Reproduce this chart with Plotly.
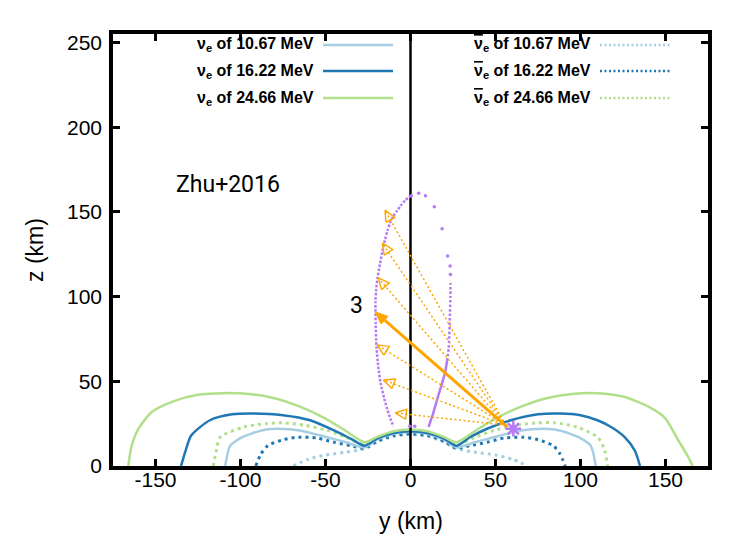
import numpy as np
import plotly.graph_objects as go

# ---------------- data (km) ----------------
# nu_e 10.67 MeV (solid light blue)
nue1_y = [-109, -106, -100, -94, -85, -78, -65, -49, -38, -27, -20, -10, 0, 10, 20, 27, 38, 49, 65, 78, 85, 94, 100, 106, 109]
nue1_z = [0, 12, 16.5, 19, 21.5, 22, 21, 17, 14, 11, 15.5, 19, 20, 19, 15.5, 11, 14, 17, 21, 22, 21.5, 19, 16.5, 12, 0]
# nu_e 16.22 MeV (solid dark blue)
nue2_y = [-135, -132, -129, -118, -105, -92, -75, -59, -45, -35, -27, -20, -10, 0, 10, 20, 27, 35, 45, 59, 75, 88, 100, 110, 118, 126, 132, 135]
nue2_z = [0, 10, 18, 27, 30.5, 31, 30, 27, 21, 16, 12, 16, 19.5, 20.5, 19.5, 16, 12, 17, 22, 27, 30.5, 31, 30, 27, 23, 17, 9, 0]
# nu_e 24.66 MeV (solid green)
nue3_y = [-166, -164, -160, -152, -140, -125, -110, -95, -80, -65, -50, -40, -27, -20, -10, 0, 10, 20, 27, 40, 50, 65, 80, 95, 110, 125, 140, 150, 157, 163, 166]
nue3_z = [0, 12, 22, 32, 38, 42, 43, 42.5, 40, 35, 28, 22, 14, 17, 20.5, 21.5, 20.5, 17, 14, 22, 28, 35, 40, 42.5, 43, 41, 35, 28, 16, 6, 0]
# anti nu_e 10.67 MeV (dotted light blue)
anu1_y = [-69, -60, -50, -39, -30, -25, -20, -10, 0, 10, 20, 25, 30, 39, 50, 60, 69]
anu1_z = [0, 4, 6.5, 8, 9.5, 11, 14, 17.5, 18.5, 17.5, 14, 11, 9.5, 8, 6.5, 4, 0]
# anti nu_e 16.22 MeV (dotted dark blue)
anu2_y = [-91, -88, -84, -75, -66, -55, -45, -35, -27, -20, -10, 0, 10, 20, 27, 35, 45, 55, 66, 75, 84, 88, 91]
anu2_z = [0, 7, 12, 15.5, 17, 16.5, 14, 12, 10.5, 14.5, 18, 19, 18, 14.5, 10.5, 12, 14, 16.5, 17, 15.5, 12, 7, 0]
# anti nu_e 24.66 MeV (dotted green)
anu3_y = [-116, -114, -112, -98, -85, -75, -62, -49, -38, -27, -20, -10, 0, 10, 20, 27, 38, 49, 62, 75, 85, 98, 110, 114, 116]
anu3_z = [0, 10, 17, 23, 25, 25.5, 24, 21, 17, 12.5, 16.5, 20, 21, 20, 16.5, 12.5, 17, 21, 24, 25.5, 25.5, 23, 17, 10, 0]

# purple trajectory
trajA_y = [10.6, 13, 15.6, 18, 20.3, 21.5]
trajA_z = [23, 30, 39, 47, 55, 62]
trajB_y = [21.5, 22.5, 23.2, 23.5, 23.5]
trajB_z = [62, 70, 90, 100, 108]
trajC_y = [23.5, 23.3, 21.8, 18.6, 14, 8.8, 4.8, 0.5]
trajC_z = [113, 118, 124, 140, 153, 159.5, 161, 159.5]
trajD_y = [0.5, -3, -5.9, -8, -10, -12, -13.5, -15, -16.5, -18, -19.4, -20.3, -20.6, -20.5, -20, -19, -17.6, -15.5, -13.5, -11.5, -10]
trajD_z = [159.5, 157, 153.5, 150.5, 147.6, 143.5, 139, 133.5, 127, 119, 111, 103, 97, 84, 70, 59, 49, 40, 33, 27, 23.5]
trajE_y = [-0.5, 2.5]
trajE_z = [23.5, 23.5]
star_y = [60.5]
star_z = [22]

# orange arrows
dot_tail_y = [56, 56, 56, 56, 56, 56]
dot_tail_z = [24, 24, 24, 24, 24, 24]
dot_head_y = [-15, -16.6, -19, -19.6, -16, -9]
dot_head_z = [151, 131.5, 111, 71.5, 50.8, 31.3]
sol_tail_y = [57]
sol_tail_z = [23]
sol_head_y = [-20.9]
sol_head_z = [91]

# ticks
xticks = [-150, -100, -50, 0, 50, 100, 150]
xticktext = ["-150", "-100", "-50", "0", "50", "100", "150"]
yticks = [0, 50, 100, 150, 200, 250]
yticktext = ["0", "50", "100", "150", "200", "250"]

OV = '<span style="text-decoration:overline">ν</span>'
legend_left = ["ν<sub>e</sub> of 10.67 MeV", "ν<sub>e</sub> of 16.22 MeV", "ν<sub>e</sub> of 24.66 MeV"]
legend_right = [OV + "<sub>e</sub> of 10.67 MeV", OV + "<sub>e</sub> of 16.22 MeV", OV + "<sub>e</sub> of 24.66 MeV"]

LB = "#a6cee3"
DB = "#1f78b4"
GR = "#b2df8a"
PU = "#b57bf5"
OR = "#ffa500"

fig = go.Figure()

def line(x, z, color, width, dash="solid", shape="linear"):
    fig.add_trace(go.Scatter(x=x, y=z, mode="lines",
                             line=dict(color=color, width=width, dash=dash, shape=shape, smoothing=0.7),
                             showlegend=False, hoverinfo="skip"))

DOT = "3px,4px"
line(anu1_y, anu1_z, LB, 3, DOT, "spline")
line(anu2_y, anu2_z, DB, 3, DOT, "spline")
line(anu3_y, anu3_z, GR, 3, DOT, "spline")
line(nue1_y, nue1_z, LB, 2.5, "solid", "spline")
line(nue2_y, nue2_z, DB, 2.5, "solid", "spline")
line(nue3_y, nue3_z, GR, 2.5, "solid", "spline")

# vertical axis line at y=0
line([0, 0], [0, 255], "black", 2.5)

# purple trajectory
line(trajA_y, trajA_z, PU, 2.5, "solid", "spline")
line(trajB_y, trajB_z, PU, 2.5, "2.5px,2px", "spline")
fig.add_trace(go.Scatter(x=trajC_y, y=trajC_z, mode="markers", marker=dict(color=PU, size=3.5),
                         showlegend=False, hoverinfo="skip"))
line(trajD_y, trajD_z, PU, 2.5, "2.5px,1.6px", "spline")
fig.add_trace(go.Scatter(x=trajE_y, y=trajE_z, mode="markers", marker=dict(color=PU, size=3.5),
                         showlegend=False, hoverinfo="skip"))

# orange dotted arrows
for ty, tz, hy, hz in zip(dot_tail_y, dot_tail_z, dot_head_y, dot_head_z):
    line([ty, hy], [tz, hz], OR, 1.5, "2px,2.5px")
    d = np.array([hy - ty, hz - tz]); d = d / np.hypot(*d)
    n = np.array([-d[1], d[0]])
    L, W = 6.5, 3.0
    b = np.array([hy, hz]) - L * d
    p1 = b + W * n; p2 = b - W * n
    fig.add_trace(go.Scatter(x=[p1[0], hy, p2[0], p1[0]], y=[p1[1], hz, p2[1], p1[1]], mode="lines",
                             line=dict(color=OR, width=1.4), showlegend=False, hoverinfo="skip"))

# solid arrow
for ty, tz, hy, hz in zip(sol_tail_y, sol_tail_z, sol_head_y, sol_head_z):
    d = np.array([hy - ty, hz - tz]); d = d / np.hypot(*d)
    n = np.array([-d[1], d[0]])
    L, W = 7.5, 3.0
    b = np.array([hy, hz]) - L * d
    line([ty, b[0]], [tz, b[1]], OR, 3)
    p1 = b + W * n; p2 = b - W * n
    fig.add_trace(go.Scatter(x=[p1[0], hy, p2[0], p1[0]], y=[p1[1], hz, p2[1], p1[1]], mode="lines",
                             fill="toself", fillcolor=OR, line=dict(color=OR, width=1),
                             showlegend=False, hoverinfo="skip"))

fig.add_trace(go.Scatter(x=star_y, y=star_z, mode="markers",
                         marker=dict(symbol="asterisk-open", size=13, color=PU, line=dict(color=PU, width=2.5)),
                         showlegend=False, hoverinfo="skip"))

# ---------------- layout ----------------
W_, H_ = 732, 536
l, r, t, b = 113, 24, 34, 70
pw, ph = W_ - l - r, H_ - t - b

def px(xp):
    return (xp - l) / pw

def py(yp):
    return (H_ - b - yp) / ph

annotations = []
shapes = []
leg_y = [45, 71, 98]
styles_left = [(LB, "solid"), (DB, "solid"), (GR, "solid")]
styles_right = [(LB, "2px,2.5px"), (DB, "2px,2.5px"), (GR, "2px,2.5px")]
LF = dict(family="Liberation Sans", size=16, color="black")
for txt, yy, (c, dsh) in zip(legend_left, leg_y, styles_left):
    annotations.append(dict(x=px(316), y=py(yy), xref="paper", yref="paper", text="<b>" + txt + "</b>",
                            showarrow=False, xanchor="right", yanchor="middle", font=LF))
    shapes.append(dict(type="line", xref="paper", yref="paper", x0=px(323), x1=px(393), y0=py(yy), y1=py(yy),
                       line=dict(color=c, width=2.5, dash=dsh)))
for txt, yy, (c, dsh) in zip(legend_right, leg_y, styles_right):
    annotations.append(dict(x=px(593), y=py(yy), xref="paper", yref="paper", text="<b>" + txt + "</b>",
                            showarrow=False, xanchor="right", yanchor="middle", font=LF))
    shapes.append(dict(type="line", xref="paper", yref="paper", x0=px(600), x1=px(670), y0=py(yy), y1=py(yy),
                       line=dict(color=c, width=2.5, dash=dsh)))

annotations.append(dict(x=-107.5, y=166, xref="x", yref="y", text="Zhu+2016", showarrow=False,
                        font=dict(family="Roboto", size=23, color="black")))
annotations.append(dict(x=-31.5, y=94.5, xref="x", yref="y", text="3", showarrow=False,
                        font=dict(family="Roboto", size=23, color="black")))
annotations.append(dict(x=px(35), y=0.5, xref="paper", yref="paper", text="z (km)", showarrow=False,
                        xanchor="center", yanchor="middle",
                        textangle=-90, font=dict(family="Liberation Sans", size=23, color="black")))
annotations.append(dict(x=0.5, y=py(521), xref="paper", yref="paper", text="y (km)", showarrow=False,
                        xanchor="center", yanchor="middle",
                        font=dict(family="Liberation Sans", size=23, color="black")))

axis_common = dict(showgrid=False, zeroline=False, showline=True, linecolor="black", linewidth=3.5,
                   mirror="ticks", ticks="inside", ticklen=7, tickwidth=2.5, tickcolor="black",
                   tickfont=dict(family="Liberation Sans", size=21, color="black"))

fig.update_layout(
    width=W_, height=H_,
    margin=dict(l=l, r=r, t=t, b=b),
    paper_bgcolor="white", plot_bgcolor="white",
    xaxis=dict(range=[-175, 175], tickvals=xticks, ticktext=xticktext, ticklabelstandoff=-8, **axis_common),
    yaxis=dict(range=[0, 255], tickvals=yticks, ticktext=yticktext, ticklabelstandoff=3, **axis_common),
    annotations=annotations,
    shapes=shapes,
    showlegend=False,
)

fig.write_html("out.html")
